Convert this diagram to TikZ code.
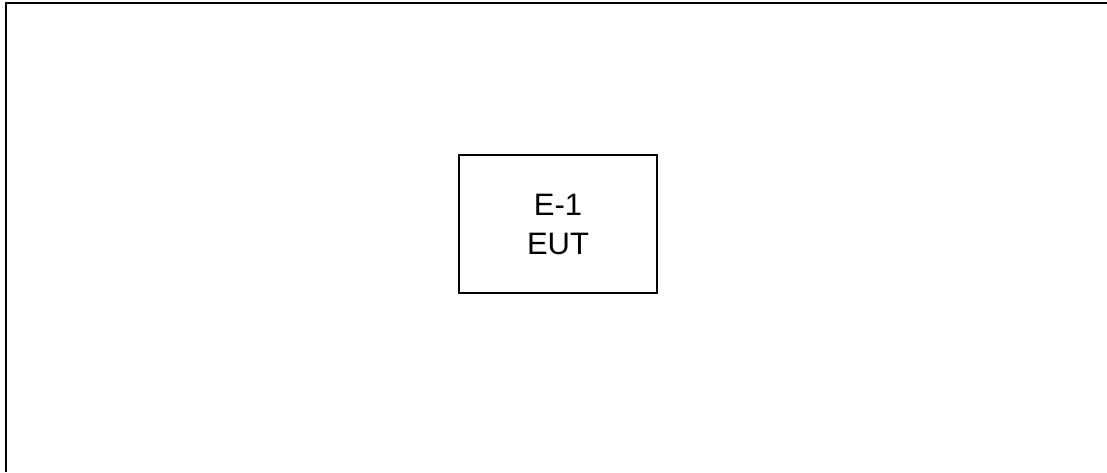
\documentclass[tikz,border=0pt]{standalone}
\usepackage{fontspec}
\setmainfont{Liberation Sans}
\usepackage{tikz}

\begin{document}
\begin{tikzpicture}[x=1pt,y=1pt]
	\useasboundingbox (0,0) rectangle (1107,472);
\draw[line width=2pt] (6,0) -- (6,468.5) -- (1107,468.5);
\node[draw,line width=1.5pt,minimum width=198pt,minimum height=138pt,align=center,font=\fontsize{31}{39}\selectfont] (eut) at (558,248) {E-1\\EUT};
\end{tikzpicture}
\end{document}
